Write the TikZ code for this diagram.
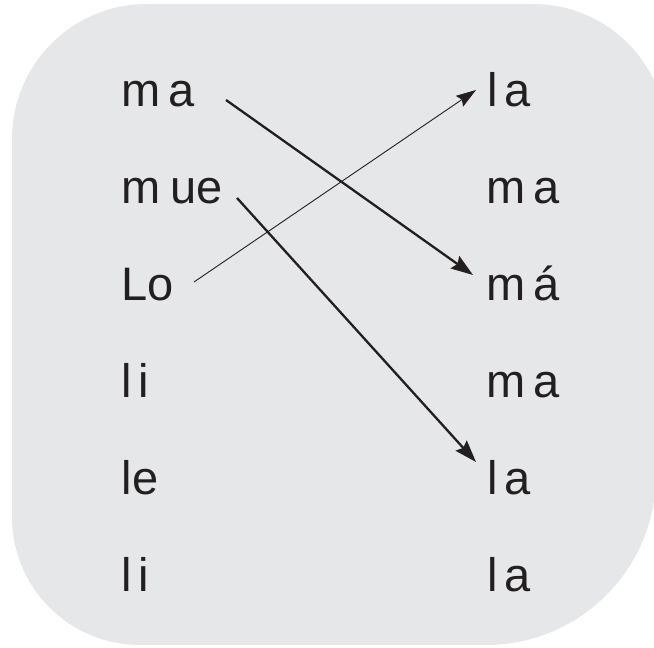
\documentclass[tikz,border=0pt]{standalone}
\usepackage{fontspec}
\setmainfont{Liberation Sans}
\usetikzlibrary{arrows.meta}
\definecolor{bgcol}{HTML}{E6E7E8}
\definecolor{ink}{HTML}{231F20}
\tikzset{
  word/.style={anchor=base west, inner sep=0pt, outer sep=0pt, text=ink,
    font=\fontsize{47}{50}\selectfont},
  thickarrow/.style={draw=ink, line width=2.3pt,
    -{Stealth[length=22pt, width=15pt, inset=3pt]}},
  thinarrow/.style={draw=ink, line width=0.9pt,
    -{Stealth[length=20pt, width=13pt, inset=3pt]}}
}
\begin{document}
\begin{tikzpicture}[x=1pt,y=1pt]
\clip (0,0) rectangle (654,648);
% background panel (right side runs past the page edge)
\fill[bgcol] (12,131) -- (12,509)
  arc[start angle=180, end angle=90, radius=135] -- (533,644)
  arc[start angle=90, end angle=0, radius=134] -- (667,510)
  -- (656,173)
  arc[start angle=0, end angle=-90, radius=170] -- (140,3)
  arc[start angle=270, end angle=180, radius=128] -- cycle;
% left column
\node[word] (l1) at (121,541) {m\kern8pt a};
\node[word] (l2) at (121,444) {m\kern10pt ue};
\node[word] (l3) at (121,347) {Lo};
\node[word] (l4) at (121,250) {l\kern7.5pt i};
\node[word] (l5) at (121,153) {l\kern1pt e};
\node[word] (l6) at (121,56) {l\kern7.5pt i};
% right column
\node[word] (r1) at (487,541) {l\kern7.5pt a};
\node[word] (r2) at (486,444) {m\kern8pt a};
\node[word] (r3) at (486,347) {m\kern8pt á};
\node[word] (r4) at (486,250) {m\kern8pt a};
\node[word] (r5) at (487,153) {l\kern7.5pt a};
\node[word] (r6) at (487,56) {l\kern7.5pt a};
% connector ends
\coordinate (s1) at (226,548);
\coordinate (t1) at (473,373);
\coordinate (s2) at (237,450);
\coordinate (t2) at (476,186);
\coordinate (s3) at (194,366);
\coordinate (t3) at (476,558);
\draw[thickarrow] (s1) -- (t1);
\draw[thickarrow] (s2) -- (t2);
\draw[thinarrow] (s3) -- (t3);
\end{tikzpicture}
\end{document}
